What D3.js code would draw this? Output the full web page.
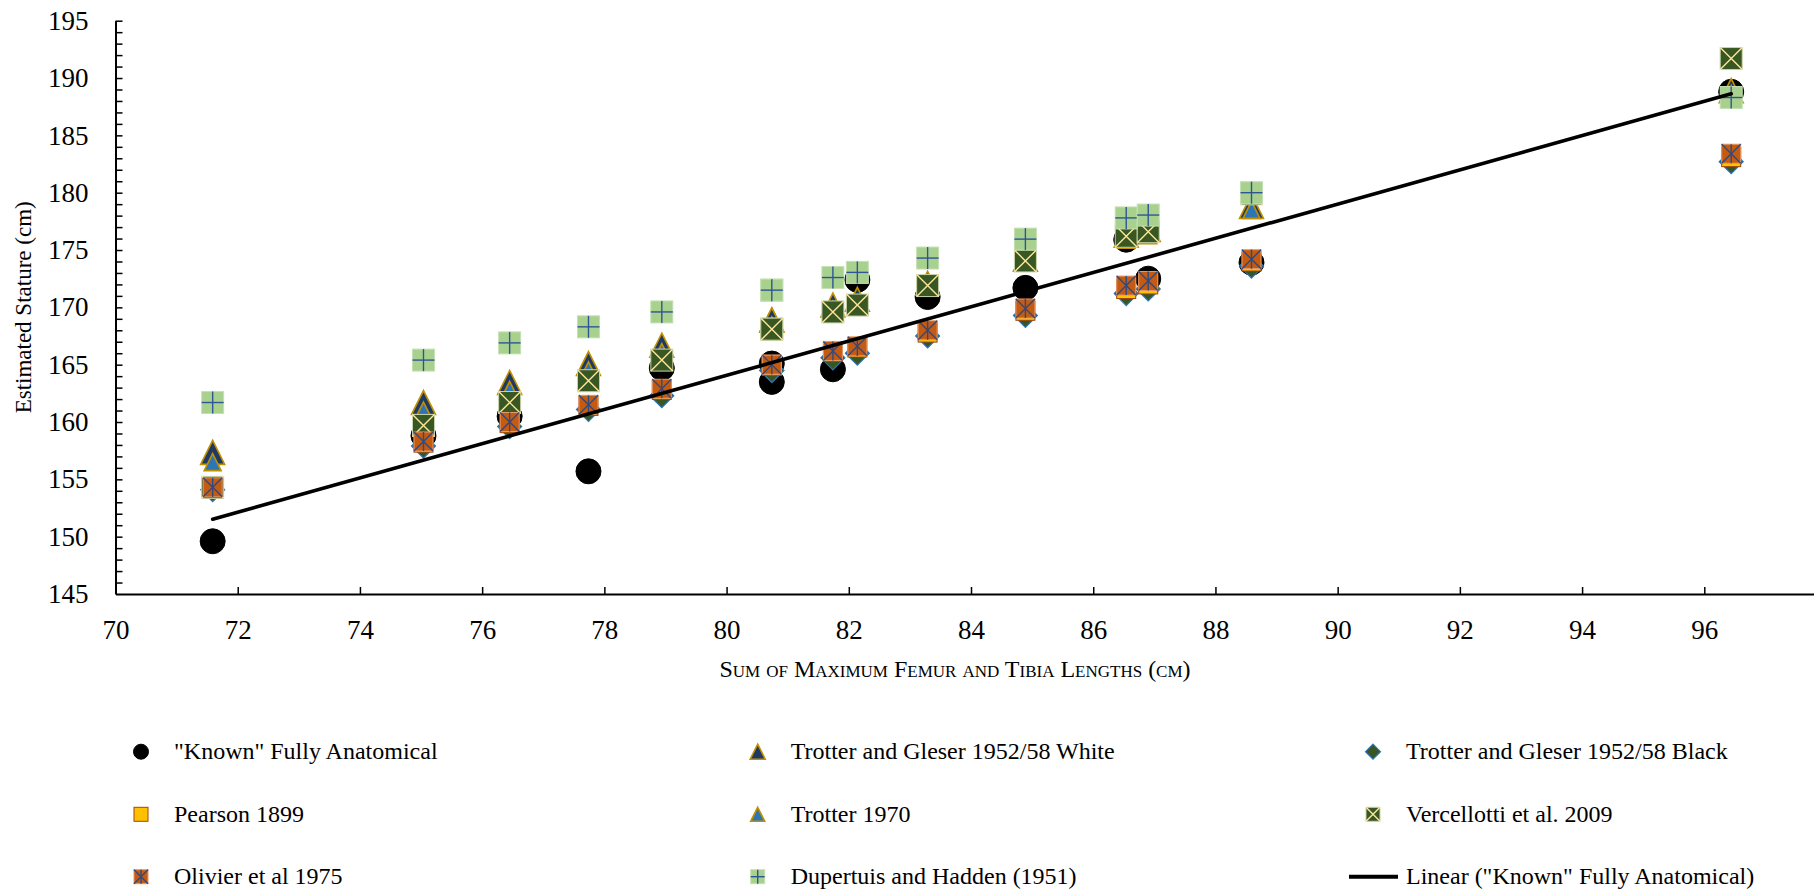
<!DOCTYPE html>
<html>
<head>
<meta charset="utf-8">
<script src="https://cdn.jsdelivr.net/npm/d3@7"></script>
<style>
  html, body { margin: 0; padding: 0; background: #fff; }
  svg { display: block; }
  text { font-family: "Liberation Serif", "Times New Roman", Times, serif; fill: #000; }
</style>
</head>
<body>
<svg id="chart" width="1814" height="892"></svg>
<script>
// ---- data ----
const sums = [71.59, 75.04, 76.45, 77.74, 78.94, 80.74, 80.74, 81.74, 82.14, 83.29, 84.89, 86.54, 86.90, 88.59, 96.44];
const knownStature   = [149.6, 158.8, 160.5, 155.7, 164.7, 165.1, 163.5, 164.6, 172.4, 170.9, 171.7, 175.9, 172.5, 173.9, 188.8];
const tgWhite        = [157.35, 161.7, 163.45, 165.1, 166.7, 168.9, 168.9, 170.2, 170.7, 172.1, 174.2, 176.3, 176.8, 178.8, 188.9];
const tgBlack        = [154.1, 157.9, 159.6, 161.1, 162.3, 164.5, 164.5, 165.6, 166.0, 167.5, 169.3, 171.2, 171.6, 173.6, 182.7];
const pearson        = [154.2, 158.2, 159.9, 161.4, 162.8, 164.9, 164.9, 166.1, 166.5, 167.8, 169.7, 171.6, 172.0, 174.0, 183.1];
const trotter1970    = [156.5, 161.0, 162.8, 164.5, 166.1, 168.4, 168.4, 169.8, 170.3, 171.8, 173.9, 175.9, 176.3, 178.5, 188.6];
const vercellotti    = [154.3, 159.7, 161.7, 163.6, 165.4, 168.1, 168.1, 169.6, 170.2, 171.9, 174.05, 176.2, 176.6, 179.9, 191.7];
const olivier        = [154.3, 158.3, 160.0, 161.5, 162.9, 165.0, 165.0, 166.2, 166.6, 168.0, 169.9, 171.9, 172.3, 174.2, 183.4];
const dupertuis      = [161.7, 165.4, 166.9, 168.3, 169.6, 171.5, 171.5, 172.6, 173.05, 174.3, 175.95, 177.8, 178.05, 180.0, 188.3];

const seriesNames = ['"Known" Fully Anatomical', 'Trotter and Gleser 1952/58 White', 'Trotter and Gleser 1952/58 Black',
  'Pearson 1899', 'Trotter 1970', 'Vercellotti et al. 2009', 'Olivier et al 1975', 'Dupertuis and Hadden (1951)'];
const trendName = 'Linear ("Known" Fully Anatomical)';
const xTickValues = [70, 72, 74, 76, 78, 80, 82, 84, 86, 88, 90, 92, 94, 96];
const yTickValues = [145, 150, 155, 160, 165, 170, 175, 180, 185, 190, 195];
const xTitle = "Sum of Maximum Femur and Tibia Lengths (cm)";
const yTitle = "Estimated Stature (cm)";

// ---- styles ----
const FONT = '"Liberation Serif", "Times New Roman", Times, serif';
const seriesStyle = [
  { values: knownStature, shape: "circle",   size: 25, fill: "#000000", stroke: "#000000", lsize: 15 },
  { values: tgWhite,      shape: "triangle", size: 24, fill: "#203864", stroke: "#BF9000", lsize: 15 },
  { values: tgBlack,      shape: "diamond",  size: 24, fill: "#375623", stroke: "#2E75B6", lsize: 15 },
  { values: pearson,      shape: "square",   size: 19, fill: "#FFC000", stroke: "#A0460F", lsize: 14 },
  { values: trotter1970,  shape: "triangle", size: 17, fill: "#2E75B6", stroke: "#BF9000", lsize: 14 },
  { values: vercellotti,  shape: "xsquare",  size: 22, fill: "#385723", stroke: "#C9D3A8", inner: "#FFE699", lsize: 14 },
  { values: olivier,      shape: "starsq",   size: 19, fill: "#C55A11", stroke: "#E59A6A", inner: "#2F4A80", lsize: 14 },
  { values: dupertuis,    shape: "plussq",   size: 22, fill: "#A9D18E", stroke: "#C5E0B4", inner: "#2F5597", lsize: 14 }
];

const svg = d3.select("#chart");
const x = d3.scaleLinear().domain([70, 97.8]).range([115.5, 1814.3]);
const y = d3.scaleLinear().domain([145, 195]).range([594, 20.7]);

function drawMarker(g, st, s) {
  const h = s / 2;
  if (st.shape === "circle") {
    g.append("circle").attr("r", h).attr("fill", st.fill).attr("stroke", st.stroke).attr("stroke-width", 1);
  } else if (st.shape === "triangle") {
    g.append("path").attr("d", `M0,${-h}L${h},${h}L${-h},${h}Z`)
      .attr("fill", st.fill).attr("stroke", st.stroke).attr("stroke-width", 1.6).attr("stroke-linejoin", "miter");
  } else if (st.shape === "diamond") {
    g.append("path").attr("d", `M0,${-h}L${h},0L0,${h}L${-h},0Z`)
      .attr("fill", st.fill).attr("stroke", st.stroke).attr("stroke-width", 1.2);
  } else {
    g.append("rect").attr("x", -h).attr("y", -h).attr("width", s).attr("height", s)
      .attr("fill", st.fill).attr("stroke", st.stroke).attr("stroke-width", 1);
    const lw = 1.4;
    if (st.shape === "xsquare" || st.shape === "starsq") {
      g.append("path").attr("d", `M${-h},${-h}L${h},${h}M${h},${-h}L${-h},${h}`)
        .attr("stroke", st.inner).attr("stroke-width", lw).attr("fill", "none");
    }
    if (st.shape === "starsq" || st.shape === "plussq") {
      g.append("path").attr("d", `M0,${-h}L0,${h}`).attr("stroke", st.inner).attr("stroke-width", lw);
    }
    if (st.shape === "plussq") {
      g.append("path").attr("d", `M${-h},0L${h},0`).attr("stroke", st.inner).attr("stroke-width", lw);
    }
  }
}

// ---- axes ----
const xAxis = d3.axisBottom(x).tickValues(xTickValues).tickSizeInner(-7).tickSizeOuter(0).tickPadding(26)
  .tickFormat(d3.format("d"));
const gx = svg.append("g").attr("transform", `translate(0,${y(145)})`).call(xAxis);
gx.attr("font-family", null);
gx.select(".domain").attr("stroke", "#000").attr("stroke-width", 2);
gx.selectAll(".tick line").attr("stroke", "#000").attr("stroke-width", 1.5);
gx.selectAll(".tick text").attr("font-size", 27).style("font-family", FONT);
gx.selectAll(".tick").filter(d => d === 70).select("line").remove();

const yMinor = d3.range(145, 196, 1);
const yAxis = d3.axisLeft(y).tickValues(yMinor).tickSizeInner(-7).tickSizeOuter(0).tickPadding(27)
  .tickFormat(d => (yTickValues.includes(d) ? d3.format("d")(d) : ""));
const gy = svg.append("g").attr("transform", `translate(${x(70)},0)`).call(yAxis);
gy.attr("font-family", null);
gy.select(".domain").attr("stroke", "#000").attr("stroke-width", 2);
gy.selectAll(".tick line").attr("stroke", "#000").attr("stroke-width", 1.5);
gy.selectAll(".tick text").attr("font-size", 27).style("font-family", FONT);
gy.selectAll(".tick").filter(d => d === 145).select("line").remove();

// axis titles
svg.append("text").attr("x", 955).attr("y", 677).attr("text-anchor", "middle")
  .attr("font-size", 24).style("font-family", FONT).style("font-variant", "small-caps").text(xTitle);
svg.append("text").attr("transform", `translate(31,${(y(145) + y(195)) / 2}) rotate(-90)`)
  .attr("text-anchor", "middle").attr("font-size", 23).style("font-family", FONT).text(yTitle);

// ---- series markers ----
const plot = svg.append("g");
seriesStyle.forEach((st) => {
  const gs = plot.append("g");
  st.values.forEach((v, i) => {
    const g = gs.append("g").attr("transform", `translate(${x(sums[i])},${y(v)})`);
    drawMarker(g, st, st.size);
  });
});

// ---- linear trendline (least squares on known data) ----
const n = sums.length;
const mx = d3.mean(sums), my = d3.mean(knownStature);
let sxy = 0, sxx = 0;
for (let i = 0; i < n; i++) { sxy += (sums[i] - mx) * (knownStature[i] - my); sxx += (sums[i] - mx) ** 2; }
const slope = sxy / sxx, intercept = my - slope * mx;
const xExt = d3.extent(sums);
const line = d3.line().x(d => x(d)).y(d => y(intercept + slope * d));
plot.append("path").datum(xExt).attr("d", line).attr("stroke", "#000").attr("stroke-width", 3.6)
  .attr("fill", "none").attr("stroke-linecap", "round");

// ---- legend ----
const colText = [174, 790.7, 1406];
const rowY = [751.7, 814.3, 876.7];
const legendItems = seriesStyle.map((st, i) => ({ name: seriesNames[i], st }));
legendItems.push({ name: trendName, st: null });
const lg = svg.append("g");
legendItems.forEach((it, i) => {
  const col = i % 3, row = Math.floor(i / 3);
  const tx = colText[col], cy = rowY[row];
  if (it.st) {
    const g = lg.append("g").attr("transform", `translate(${tx - 33},${cy})`);
    drawMarker(g, it.st, it.st.lsize);
  } else {
    lg.append("line").attr("x1", tx - 57).attr("x2", tx - 8).attr("y1", cy).attr("y2", cy)
      .attr("stroke", "#000").attr("stroke-width", 4);
  }
  lg.append("text").attr("x", tx).attr("y", cy + 7.5).attr("font-size", 24).style("font-family", FONT).text(it.name);
});
</script>
</body>
</html>
